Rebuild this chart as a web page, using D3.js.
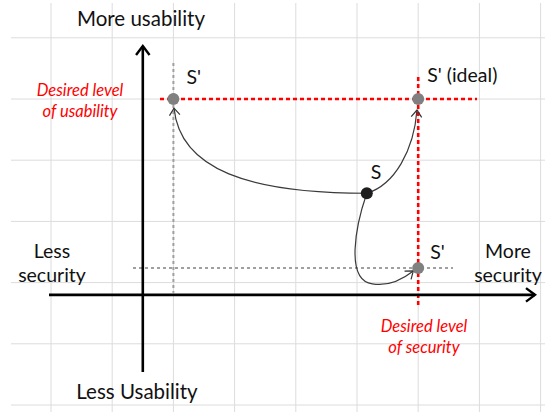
<!DOCTYPE html>
<html><head><meta charset="utf-8">
<script src="https://cdn.jsdelivr.net/npm/d3@7"></script>
<style>body{margin:0;background:#fff}svg{display:block}text{font-family:Lato,"Open Sans",sans-serif}</style>
</head><body><svg id="c" width="545" height="412"></svg>
<script>
// grid units
const gridX = [0,1,2,3,4,5,6,7,8];
const gridY = [0,1,2,3,4,5,6];
const axisXPos = 1.5;   // vertical (usability) axis at this security value
const axisYPos = 1.8;   // horizontal (security) axis at this usability value
const pointNames = ["S", "S'", "S' (ideal)", "S'"];
const pointX = [5.16, 2.0, 6.0, 6.0];
const pointY = [3.46, 5.0, 5.0, 2.24];
const desiredSecurity = 6.0;
const desiredUsability = 5.0;
// transition curves (cubic bezier control points, data units)
const curveToUsability = [[5.16,3.46],[3.25,3.46],[2.11,3.84],[2.01,4.85]];
const curveToIdeal = [[5.16,3.46],[5.62,3.6],[5.93,4.17],[5.98,4.82]];
const curveToSecurity = [[5.16,3.46],[4.98,2.94],[4.8,2.04],[5.25,1.98],[5.54,1.93],[5.78,2.08],[5.92,2.19]];

const svg = d3.select("#c");
const x = d3.scaleLinear().domain([0,8]).range([51, 540.6]);
const y = d3.scaleLinear().domain([0,6]).range([405, 37.8]);

// grid
svg.append("g").selectAll("line").data(gridX).join("line")
  .attr("x1", d=>x(d)).attr("x2", d=>x(d)).attr("y1", 3).attr("y2", 412)
  .attr("stroke", "#dcdcdc").attr("stroke-width", 1);
svg.append("g").selectAll("line").data(gridY).join("line")
  .attr("y1", d=>y(d)).attr("y2", d=>y(d)).attr("x1", 11).attr("x2", 545)
  .attr("stroke", "#dcdcdc").attr("stroke-width", 1);

// markers
const defs = svg.append("defs");
function marker(id, color, w, size){
  defs.append("marker").attr("id", id).attr("markerUnits","userSpaceOnUse")
    .attr("viewBox","-12 -8 14 16").attr("refX",0).attr("refY",0)
    .attr("markerWidth",14).attr("markerHeight",16).attr("orient","auto")
    .append("path").attr("d",`M${-size},${-size*0.75}L0,0L${-size},${size*0.75}`)
    .attr("fill","none").attr("stroke",color).attr("stroke-width",w).attr("stroke-linejoin","miter");
}
marker("axArrow","#000",2.4,9);
marker("cArrow","#333",1.2,7);

// gray dashed guides
svg.append("line").attr("x1", x(2)).attr("x2", x(2)).attr("y1", 63).attr("y2", y(axisYPos)-2)
  .attr("stroke","#a0a0a0").attr("stroke-width",2).attr("stroke-dasharray","3,3");
svg.append("line").attr("x1", 133).attr("x2", 453).attr("y1", y(pointY[3])).attr("y2", y(pointY[3]))
  .attr("stroke","#a0a0a0").attr("stroke-width",2).attr("stroke-dasharray","3,3");

// red dashed desired lines
svg.append("line").attr("x1", 160).attr("x2", 477).attr("y1", y(desiredUsability)).attr("y2", y(desiredUsability))
  .attr("stroke","#ff0000").attr("stroke-width",2.6).attr("stroke-dasharray","4,3");
svg.append("line").attr("x1", x(desiredSecurity)).attr("x2", x(desiredSecurity)).attr("y1", 77).attr("y2", 308)
  .attr("stroke","#ff0000").attr("stroke-width",2.6).attr("stroke-dasharray","4,3");

// axes
svg.append("line").attr("x1", x(axisXPos)).attr("x2", x(axisXPos)).attr("y1", 372).attr("y2", 46)
  .attr("stroke","#000").attr("stroke-width",2.6).attr("marker-end","url(#axArrow)");
svg.append("line").attr("x1", 49).attr("x2", 535).attr("y1", y(axisYPos)).attr("y2", y(axisYPos))
  .attr("stroke","#000").attr("stroke-width",2.6).attr("marker-end","url(#axArrow)");

// curves
function bez(pts){
  const p = pts.map(d=>[x(d[0]), y(d[1])]);
  let s = `M${p[0][0]},${p[0][1]}`;
  for(let i=1;i+2<p.length;i+=3) s += `C${p[i][0]},${p[i][1]} ${p[i+1][0]},${p[i+1][1]} ${p[i+2][0]},${p[i+2][1]}`;
  return s;
}
[curveToUsability, curveToIdeal, curveToSecurity].forEach(c=>{
  svg.append("path").attr("d", bez(c)).attr("fill","none").attr("stroke","#3a3a3a")
    .attr("stroke-width",1.2).attr("marker-end","url(#cArrow)");
});

// points
svg.append("g").selectAll("circle").data(pointNames.map((n,i)=>({n,i}))).join("circle")
  .attr("cx", d=>x(pointX[d.i])).attr("cy", d=>y(pointY[d.i])).attr("r", 6)
  .attr("fill", d=>d.i===0 ? "#1e1e1e" : "#808080");

// point labels
const labOff = [[4,-14],[13,-15],[9,-17],[12,-9]];
svg.append("g").selectAll("text").data(pointNames.map((n,i)=>({n,i}))).join("text")
  .attr("x", d=>x(pointX[d.i])+labOff[d.i][0]).attr("y", d=>y(pointY[d.i])+labOff[d.i][1])
  .attr("font-size", 19.5).attr("fill","#111").text(d=>d.n);

// axis titles
function txt(t, px, py, opts={}){
  return svg.append("text").attr("x",px).attr("y",py).attr("text-anchor",opts.anchor||"middle")
    .attr("font-size",opts.size||20.5).attr("fill",opts.fill||"#111")
    .attr("font-style",opts.italic?"italic":"normal").text(t);
}
txt("More usability", 141, 26);
txt("Less Usability", 137, 399);
txt("Less", 52, 258, {size:19.5});
txt("security", 52, 282, {size:19.5});
txt("More", 508, 258, {size:19.5});
txt("security", 508, 282, {size:19.5});
txt("Desired level", 80, 96, {size:16.5, fill:"#ff0000", italic:true});
txt("of usability", 80, 117, {size:16.5, fill:"#ff0000", italic:true});
txt("Desired level", 424, 332, {size:16.5, fill:"#ff0000", italic:true});
txt("of security", 424, 353, {size:16.5, fill:"#ff0000", italic:true});
</script></body></html>
